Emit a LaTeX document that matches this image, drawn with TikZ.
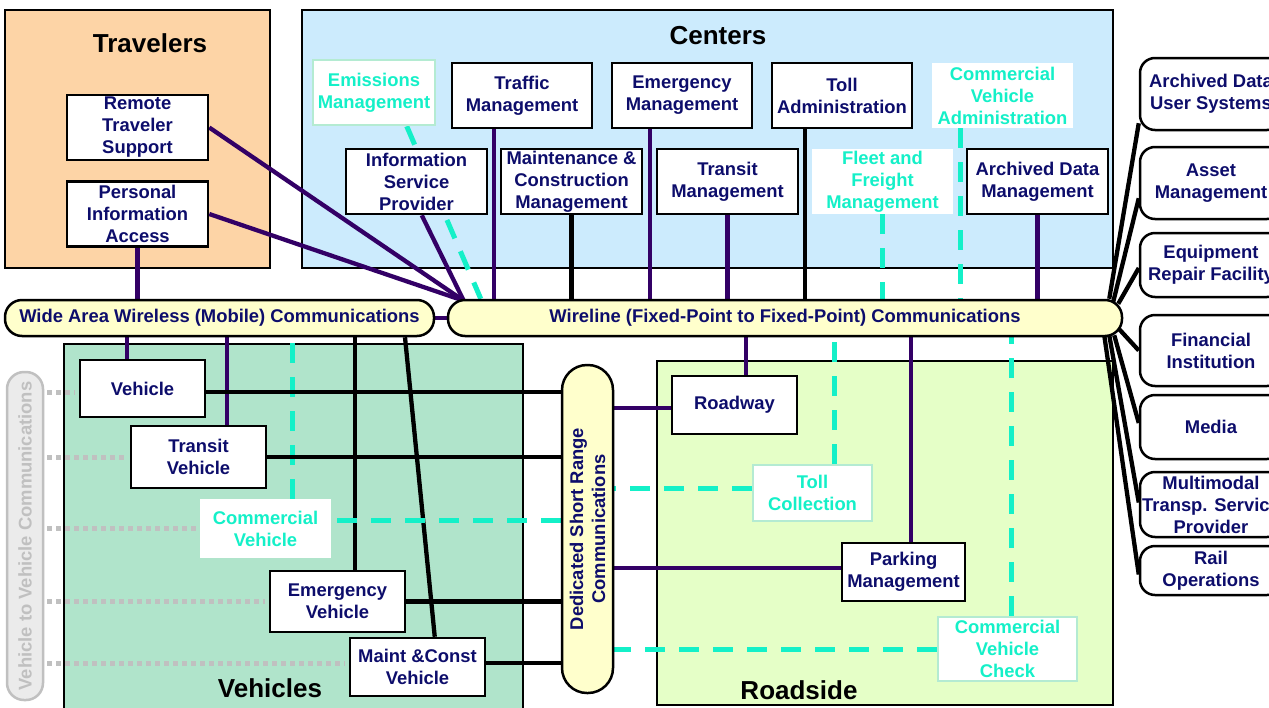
\documentclass[tikz,border=0pt]{standalone}
\usepackage{fontspec}
\setmainfont{Liberation Sans}
\usetikzlibrary{calc}

\definecolor{navy}{RGB}{13,13,107}
\definecolor{linepurple}{RGB}{51,0,102}
\definecolor{aqua}{RGB}{20,240,200}
\definecolor{paleedge}{RGB}{180,235,210}
\definecolor{travfill}{RGB}{253,212,166}
\definecolor{centfill}{RGB}{204,235,253}
\definecolor{vehfill}{RGB}{176,228,203}
\definecolor{roadfill}{RGB}{229,255,199}
\definecolor{barfill}{RGB}{255,255,204}
\definecolor{v2vfill}{RGB}{235,235,235}
\definecolor{v2vgrey}{RGB}{192,192,192}

\pgfdeclarelayer{regions}
\pgfdeclarelayer{links}
\pgfsetlayers{regions,links,main}

\tikzset{
  txt/.style={font=\bfseries\fontsize{18.4}{22}\selectfont, align=center, inner sep=0pt},
  sz/.style 2 args={minimum width=#1pt, minimum height=#2pt},
  unit/.style={txt, draw=black, line width=2.5pt, fill=white, text=navy},
  faint/.style={txt, draw=paleedge, line width=2.5pt, fill=white, text=aqua},
  ghost/.style={txt, fill=white, text=aqua},
  extern/.style={txt, draw=black, line width=2.5pt, fill=white, text=navy, rounded corners=15pt},
  commbar/.style={draw=black, line width=2.5pt, fill=barfill, rounded corners=17pt, inner sep=0pt},
  regiontitle/.style={font=\bfseries\fontsize{26}{30}\selectfont, anchor=base},
  region/.style={draw=black, line width=2.5pt},
  plink/.style={linepurple, line width=4.3pt},
  blink/.style={black, line width=4.3pt},
  alink/.style={aqua, line width=5pt, dash pattern=on 20pt off 14pt},
  glink/.style={v2vgrey, line width=5pt, dash pattern=on 5pt off 4pt},
}

\begin{document}
\begin{tikzpicture}[x=1pt, y=-1pt]
\useasboundingbox (0,0) rectangle (1269,707);

% ---------- subsystem groups ----------
\begin{pgfonlayer}{regions}
  \fill[white] (0,0) rectangle (1269,707);
  \draw[region, fill=travfill] (5,10) rectangle (270,268);
  \draw[region, fill=centfill] (302,10) rectangle (1113,268);
  \draw[region, fill=vehfill] (64,344) rectangle (523,712);
  \draw[region, fill=roadfill] (657,361) rectangle (1113,705);
\end{pgfonlayer}

\node[regiontitle] (travt) at (150,52) {Travelers};
\node[regiontitle] (centt) at (718,44) {Centers};
\node[regiontitle] (veht) at (270,697) {Vehicles};
\node[regiontitle] (roadt) at (799,699) {Roadside};

% ---------- travelers ----------
\node[unit, sz={141}{65}] (rts) at (137.5,127.5) {Remote\\Traveler\\Support};
\node[unit, sz={141}{65}] (pia) at (137.5,214) {Personal\\Information\\Access};

% ---------- centers ----------
\node[faint, sz={122}{65}] (emis) at (374,92.5) {Emissions\\Management};
\node[unit, sz={140}{65}] (traffic) at (522,95.5) {Traffic\\Management};
\node[unit, sz={140}{65}] (emerg) at (682,95.5) {Emergency\\Management};
\node[unit, sz={140}{65}] (tolla) at (842,95.5) {Toll\\Administration};
\node[ghost, sz={141}{65}] (cva) at (1002.5,95.5) {Commercial\\Vehicle\\Administration};
\node[unit, sz={141}{65}] (isp) at (416.5,181.5) {Information\\Service\\Provider};
\node[unit, sz={141}{65}] (mcm) at (571.5,181.5) {Maintenance \&\\Construction\\Management};
\node[unit, sz={141}{65}] (transitm) at (727.5,181.5) {Transit\\Management};
\node[ghost, sz={141}{65}] (fleet) at (882.5,181.5) {Fleet and\\Freight\\Management};
\node[unit, sz={141}{65}] (adm) at (1037.5,181.5) {Archived Data\\Management};

% ---------- communication bars ----------
\node[commbar, sz={429}{36}, txt, text=navy] (mobile) at (219.5,318) {Wide Area Wireless (Mobile) Communications};
\node[commbar, sz={674}{36}, txt, text=navy] (fixed) at (785,318) {Wireline (Fixed-Point to Fixed-Point) Communications};
\node[commbar, rounded corners=25pt, sz={51}{328}] (dsrc) at (587.5,529) {};
\node[txt, text=navy, rotate=90] (dsrct) at (dsrc.center) {Dedicated Short Range\\Communications};
\node[draw=v2vgrey, line width=2.5pt, fill=v2vfill, rounded corners=17pt, sz={36}{328}, inner sep=0pt] (v2v) at (25,536) {};
\node[txt, text=v2vgrey, rotate=90] (v2vt) at (v2v.center) {Vehicle to Vehicle Communications};

% ---------- vehicles ----------
\node[unit, sz={125}{57}] (veh) at (142.5,388.5) {Vehicle};
\node[unit, sz={135}{62}] (tveh) at (198.5,457) {Transit\\Vehicle};
\node[ghost, sz={131}{59}] (cveh) at (265.5,528.5) {Commercial\\Vehicle};
\node[unit, sz={135}{61}] (eveh) at (337.5,601.5) {Emergency\\Vehicle};
\node[unit, sz={135}{58}] (mveh) at (417.5,667) {Maint \&Const\\Vehicle};

% ---------- roadside ----------
\node[unit, sz={125}{58}] (roadway) at (734.5,405) {Roadway};
\node[faint, sz={119}{56}] (tollc) at (812.5,493) {Toll\\Collection};
\node[unit, sz={123}{58}] (parking) at (903.5,572) {Parking\\Management};
\node[faint, sz={139}{64}] (cvc) at (1007.5,649) {Commercial\\Vehicle\\Check};

% ---------- external systems ----------
\node[extern, sz={142}{72}] (adus) at (1211,94) {Archived Data\\User Systems};
\node[extern, sz={142}{72}] (asset) at (1211,183) {Asset\\Management};
\node[extern, sz={142}{64}] (equip) at (1211,265) {Equipment\\Repair Facility};
\node[extern, sz={142}{71}] (fin) at (1211,350.5) {Financial\\Institution};
\node[extern, sz={142}{64}] (media) at (1211,427) {Media};
\node[extern, sz={142}{65}] (multi) at (1211,504.5) {Multimodal\\Transp. Service\\Provider};
\node[extern, sz={142}{49}] (rail) at (1211,570.5) {Rail\\Operations};

% ---------- connectors ----------
\begin{pgfonlayer}{links}
  % travelers and information service provider converge on the wireline bar
  \coordinate (hub) at ([xshift=17pt,yshift=-2pt]fixed.north west);
  \draw[plink] (rts.east) -- (hub);
  \draw[plink] (pia.east) -- (hub);
  \draw[plink] ([xshift=77pt]isp.south west) -- (hub);
  \draw[alink] ([xshift=95pt]emis.south west) -- ([xshift=34pt]fixed.north west);

  % centers to wireline
  \coordinate (ctraffic) at ([xshift=43pt]traffic.south west);
  \coordinate (cemerg) at ([xshift=39pt]emerg.south west);
  \coordinate (ctolla) at ([xshift=34pt]tolla.south west);
  \coordinate (ccva) at ([xshift=29pt]cva.south west);
  \draw[plink] (ctraffic) -- (ctraffic |- fixed.north);
  \draw[plink] (cemerg) -- (cemerg |- fixed.north);
  \draw[blink] (ctolla) -- (ctolla |- fixed.north);
  \draw[alink] (ccva) -- (ccva |- fixed.north);
  \draw[blink] (mcm.south) -- (mcm.south |- fixed.north);
  \draw[plink] (transitm.south) -- (transitm.south |- fixed.north);
  \draw[alink] (fleet.south) -- (fleet.south |- fixed.north);
  \draw[plink] (adm.south) -- (adm.south |- fixed.north);

  % mobile bar links
  \draw[plink] (mobile.east) -- (fixed.west);
  \draw[plink] (pia.south) -- (pia.south |- mobile.north);

  \coordinate (cveh1) at ([xshift=48.5pt]veh.north west);
  \coordinate (ctveh) at ([xshift=97.5pt]tveh.north west);
  \coordinate (ccveh) at ([xshift=93pt]cveh.north west);
  \coordinate (ceveh) at ([xshift=86pt]eveh.north west);
  \draw[plink] (cveh1) -- (cveh1 |- mobile.south);
  \draw[plink] (ctveh) -- (ctveh |- mobile.south);
  \draw[alink] (ccveh) -- (ccveh |- mobile.south);
  \draw[blink] (ceveh) -- (ceveh |- mobile.south);
  \draw[blink] ([xshift=185.5pt]mobile.south) -- ([xshift=86pt]mveh.north west);

  % vehicles to DSRC
  \coordinate (dveh) at ([yshift=-3.5pt]veh.east);
  \coordinate (dcveh) at ([xshift=6pt,yshift=8.5pt]cveh.east);
  \coordinate (dmveh) at ([yshift=4pt]mveh.east);
  \draw[blink] (dveh) -- (dveh -| dsrc.west);
  \draw[blink] (tveh.east) -- (tveh.east -| dsrc.west);
  \draw[alink] (dcveh) -- (dcveh -| dsrc.west);
  \draw[blink] (eveh.east) -- (eveh.east -| dsrc.west);
  \draw[blink] (dmveh) -- (dmveh -| dsrc.west);

  % DSRC to roadside
  \coordinate (drw) at ([yshift=-3pt]roadway.west);
  \coordinate (dtc) at ([yshift=5pt]tollc.west);
  \coordinate (dpk) at ([yshift=4pt]parking.west);
  \draw[plink] (drw) -- (drw -| dsrc.east);
  \draw[alink] (dtc) -- (dtc -| dsrc.east);
  \draw[plink] (dpk) -- (dpk -| dsrc.east);
  \draw[alink] (cvc.west) -- (cvc.west -| dsrc.east);

  % wireline to roadside
  \coordinate (frw) at ([xshift=75pt]roadway.north west);
  \coordinate (ftc) at ([xshift=83pt]tollc.north west);
  \coordinate (fpk) at ([xshift=70.5pt]parking.north west);
  \coordinate (fcvc) at ([xshift=75pt]cvc.north west);
  \draw[plink] (frw) -- (frw |- fixed.south);
  \draw[alink] (ftc) -- (ftc |- fixed.south);
  \draw[plink] (fpk) -- (fpk |- fixed.south);
  \draw[alink] (fcvc) -- (fcvc |- fixed.south);

  % wireline to external systems
  \draw[blink] ([xshift=-14pt]fixed.north east) -- ([yshift=8pt]adus.south west);
  \draw[blink] ([xshift=-10pt,yshift=-3pt]fixed.north east) -- ([yshift=22pt]asset.south west);
  \draw[blink] ([xshift=-5pt,yshift=-5pt]fixed.north east) -- ([yshift=-3pt]equip.west);
  \draw[blink] ([xshift=-4pt,yshift=8pt]fixed.south east) -- (fin.west);
  \draw[blink] ([xshift=-9pt,yshift=2pt]fixed.south east) -- ([yshift=4pt]media.west);
  \draw[blink] ([xshift=-14pt,yshift=2pt]fixed.south east) -- ([yshift=2pt]multi.west);
  \draw[blink] ([xshift=-19pt,yshift=2pt]fixed.south east) -- ([yshift=-4pt]rail.west);

  % vehicle to vehicle
  \coordinate (vb) at ([xshift=3pt]v2v.east);
  \coordinate (gveh) at ([xshift=-4pt,yshift=-3.5pt]veh.west);
  \coordinate (gtveh) at ([xshift=-4pt]tveh.west);
  \coordinate (gcveh) at ([xshift=-4pt]cveh.west);
  \coordinate (geveh) at ([xshift=-4pt]eveh.west);
  \coordinate (gmveh) at ([xshift=-4pt,yshift=4pt]mveh.west);
  \draw[glink] (vb |- gveh) -- (gveh);
  \draw[glink] (vb |- gtveh) -- (gtveh);
  \draw[glink] (vb |- gcveh) -- (gcveh);
  \draw[glink] (vb |- geveh) -- (geveh);
  \draw[glink] (vb |- gmveh) -- (gmveh);
\end{pgfonlayer}
\end{tikzpicture}
\end{document}
